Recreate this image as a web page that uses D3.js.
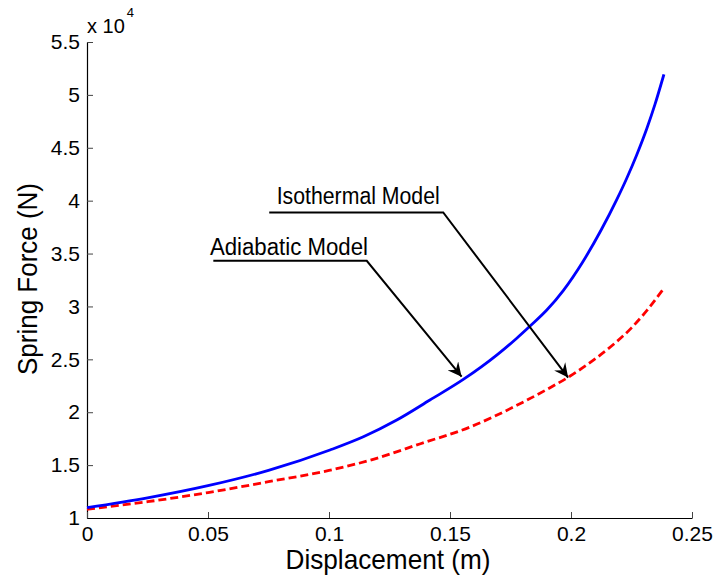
<!DOCTYPE html>
<html>
<head>
<meta charset="utf-8">
<script src="https://cdn.jsdelivr.net/npm/d3@7"></script>
<style>
	body { margin: 0; background: #fff; }
	svg { display: block; font-family: 'Liberation Sans', Arial, sans-serif; }
</style>
</head>
<body>
<script>
(function(document, window){
'use strict';

// displacement (m) for each curve
var adiabaticX = [0, 0.025, 0.05, 0.075, 0.1004, 0.1142, 0.128, 0.1417, 0.1555, 0.1693, 0.1776,
				0.1831, 0.19, 0.1968, 0.2051, 0.2124, 0.2189, 0.223, 0.2271, 0.2313, 0.2347, 0.2384];
// spring force (N)
var adiabaticF = [10970, 11900, 13050, 14500, 16430, 17680, 19260, 21150, 23100, 25400, 27000,
				28150, 29660, 31500, 34300, 37200, 40100, 42100, 44300, 46800, 49100, 51940];

var isothermalX = [0, 0.025, 0.05, 0.075, 0.1, 0.1183, 0.1375, 0.1583, 0.1776, 0.19, 0.1995,
				0.2106, 0.2175, 0.2251, 0.2313, 0.238];
var isothermalF = [10820, 11540, 12400, 13430, 14500, 15550, 17000, 18600, 20650, 22150, 23400,
				25150, 26400, 28000, 29600, 31600];

var xTicks = [0, 0.05, 0.1, 0.15, 0.2, 0.25];
var yTicks = [10000, 15000, 20000, 25000, 30000, 35000, 40000, 45000, 50000, 55000];
var yTickLabels = ['1', '1.5', '2', '2.5', '3', '3.5', '4', '4.5', '5', '5.5'];

var width = 715;
var height = 584;

var x = d3.scaleLinear().domain([0, 0.25]).range([87, 692]);
var y = d3.scaleLinear().domain([10000, 55000]).range([518, 42]);

var svg = d3.select('body').append('svg')
			.attr('width', width)
			.attr('height', height);

// arrow head, matlab 'vback2' style
svg.append('defs').append('marker')
	.attr('id', 'head')
	.attr('viewBox', '0 0 14 14')
	.attr('refX', 14)
	.attr('refY', 7)
	.attr('markerWidth', 14)
	.attr('markerHeight', 14)
	.attr('markerUnits', 'userSpaceOnUse')
	.attr('orient', 'auto')
	.append('path')
	.attr('d', 'M0,0 L14,7 L0,14 L5,7 Z')
	.attr('fill', '#000');

var yAxis = d3.axisLeft(y)
			.tickValues(yTicks)
			.tickFormat(function(d, i){ return yTickLabels[i]; })
			.tickSizeInner(-6)
			.tickSizeOuter(0)
			.tickPadding(7);

var xAxis = d3.axisBottom(x)
			.tickValues(xTicks)
			.tickFormat(function(d){ return d === 0 ? '0' : String(d); })
			.tickSizeInner(-6)
			.tickSizeOuter(0)
			.tickPadding(8);

function styleAxis(g){
	g.select('.domain').attr('stroke', '#000').attr('stroke-width', 1.2);
	g.selectAll('.tick line').attr('stroke', '#444').attr('stroke-width', 1);
	g.selectAll('.tick text')
		.attr('fill', '#000')
		.style('font-size', '21px')
		.style('font-family', "'Liberation Sans', Arial, sans-serif");
}

svg.append('g')
	.attr('transform', 'translate(' + x(0) + ',0)')
	.call(yAxis)
	.call(styleAxis);

svg.append('g')
	.attr('transform', 'translate(0,' + y(10000) + ')')
	.call(xAxis)
	.call(styleAxis);

// exponent label
var expo = svg.append('text')
			.attr('x', 87)
			.attr('y', 33)
			.attr('fill', '#000')
			.style('font-size', '20px');
expo.append('tspan').text('x 10');
expo.append('tspan')
	.attr('dx', 2)
	.attr('dy', -16)
	.style('font-size', '13px')
	.text('4');

svg.append('text')
	.attr('x', 388)
	.attr('y', 569)
	.attr('text-anchor', 'middle')
	.attr('textLength', 205)
	.attr('lengthAdjust', 'spacingAndGlyphs')
	.style('font-size', '28px')
	.text('Displacement (m)');

svg.append('text')
	.attr('transform', 'translate(37,279) rotate(-90)')
	.attr('text-anchor', 'middle')
	.attr('textLength', 192)
	.attr('lengthAdjust', 'spacingAndGlyphs')
	.style('font-size', '28px')
	.text('Spring Force (N)');

var line = d3.line()
			.x(function(d){ return x(d[0]); })
			.y(function(d){ return y(d[1]); })
			.curve(d3.curveMonotoneX);

svg.append('path')
	.datum(d3.zip(isothermalX, isothermalF))
	.attr('d', line)
	.attr('fill', 'none')
	.attr('stroke', '#ff0000')
	.attr('stroke-width', 2.8)
	.attr('stroke-dasharray', '8,4');

svg.append('path')
	.datum(d3.zip(adiabaticX, adiabaticF))
	.attr('d', line)
	.attr('fill', 'none')
	.attr('stroke', '#0000ff')
	.attr('stroke-width', 2.8);

// annotations: text start, underline start, elbow, arrow tip (data units)
var notes = [
	{label: 'Adiabatic Model', tx: 0.0508, ty: 34860, len: 158, ux: 0.0522, ex: 0.1156, ey: 34320, px: 0.1548, py: 23360},
	{label: 'Isothermal Model', tx: 0.0784, ty: 39720, len: 163, ux: 0.0753, ex: 0.1472, ey: 38890, px: 0.1988, py: 23280}
];

var note = svg.selectAll('g.note')
			.data(notes)
			.enter()
			.append('g')
			.attr('class', 'note');

note.append('text')
	.attr('x', function(d){ return x(d.tx); })
	.attr('y', function(d){ return y(d.ty); })
	.attr('textLength', function(d){ return d.len; })
	.attr('lengthAdjust', 'spacingAndGlyphs')
	.style('font-size', '23px')
	.text(function(d){ return d.label; });

note.append('path')
	.attr('d', function(d){
		return 'M' + x(d.ux) + ',' + y(d.ey) + 'L' + x(d.ex) + ',' + y(d.ey) + 'L' + x(d.px) + ',' + y(d.py);
	})
	.attr('fill', 'none')
	.attr('stroke', '#000')
	.attr('stroke-width', 2)
	.attr('marker-end', 'url(#head)');

})(document, window);
</script>
</body>
</html>
